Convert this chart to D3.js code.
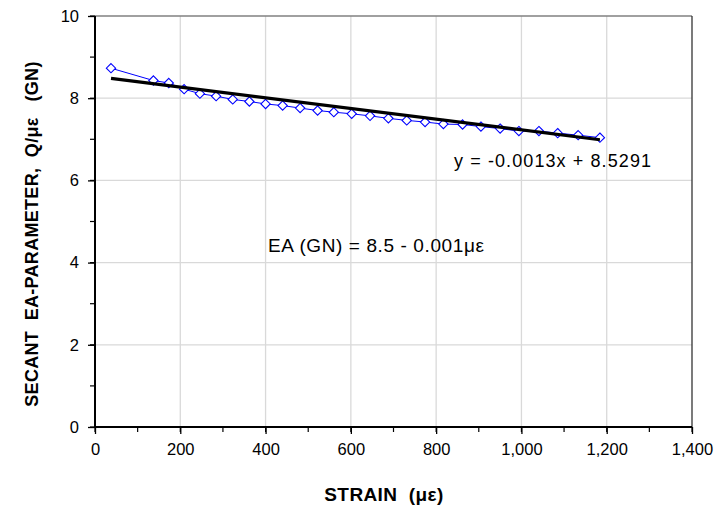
<!DOCTYPE html>
<html><head><meta charset="utf-8">
<script src="https://cdn.jsdelivr.net/npm/d3@7"></script>
<style>body{margin:0;background:#fff;} text{font-family:"Liberation Sans",Arial,sans-serif; white-space:pre;}</style>
</head><body>
<svg id="c" width="721" height="509"></svg>
<script>
const strain = [37.5,137,173,209,246,284,323,362,400,440,481,522,560,602,645,688,731,774,817,862,905,950,994,1041,1085,1133,1184];
const secantEA = [8.73,8.43,8.37,8.22,8.11,8.05,7.97,7.92,7.86,7.82,7.76,7.70,7.66,7.62,7.57,7.51,7.46,7.42,7.37,7.36,7.31,7.26,7.20,7.20,7.15,7.10,7.04];
const trendSlope = -0.0013, trendIntercept = 8.5291;
const xTicks = [0,200,400,600,800,1000,1200,1400];
const yTicks = [0,2,4,6,8,10];
const xMinor = d3.range(0,1401,100);
const yMinor = d3.range(0,11,1);
const eqLabel = "y = -0.0013x + 8.5291";
const eaLabel = "EA (GN) = 8.5 - 0.001με";
const xTitle = "STRAIN  (με)";
const yTitle = "SECANT  EA-PARAMETER,  Q/με   (GN)";

const svg = d3.select("#c");
const x = d3.scaleLinear().domain([0,1400]).range([95,692]);
const y = d3.scaleLinear().domain([0,10]).range([427,16]);

// gridlines
svg.append("g").selectAll("line").data(xTicks.slice(1,-1)).join("line")
  .attr("x1",d=>x(d)).attr("x2",d=>x(d)).attr("y1",y(0)).attr("y2",y(10))
  .attr("stroke","#d9d9d9").attr("stroke-width",1.3);
svg.append("g").selectAll("line").data(yTicks.slice(1,-1)).join("line")
  .attr("x1",x(0)).attr("x2",x(1400)).attr("y1",d=>y(d)).attr("y2",d=>y(d))
  .attr("stroke","#d9d9d9").attr("stroke-width",1.3);
// top & right border
svg.append("line").attr("x1",x(0)).attr("x2",x(1400)).attr("y1",y(10)).attr("y2",y(10)).attr("stroke","#808080").attr("stroke-width",1.3);
svg.append("line").attr("x1",x(1400)).attr("x2",x(1400)).attr("y1",y(10)).attr("y2",y(0)).attr("stroke","#333").attr("stroke-width",1.3);

// axes
const xAxis = svg.append("g").attr("transform",`translate(0,${y(0)})`)
  .call(d3.axisBottom(x).tickValues(xTicks).tickSize(7).tickFormat(d3.format(",")));
xAxis.select(".domain").remove();
xAxis.selectAll(".tick line").attr("stroke","#000").attr("stroke-width",1.3);
xAxis.selectAll(".tick text").attr("font-size",16.5).attr("fill","#000").attr("dy","1.1em").attr("font-family","Liberation Sans, Arial, sans-serif");
svg.append("g").selectAll("line").data(xMinor).join("line")
  .attr("x1",d=>x(d)).attr("x2",d=>x(d)).attr("y1",y(0)).attr("y2",y(0)+5).attr("stroke","#000").attr("stroke-width",1.2);

const yAxis = svg.append("g").attr("transform",`translate(${x(0)},0)`)
  .call(d3.axisLeft(y).tickValues(yTicks).tickSize(7).tickPadding(9));
yAxis.select(".domain").remove();
yAxis.selectAll(".tick line").attr("stroke","#000").attr("stroke-width",1.3);
yAxis.selectAll(".tick text").attr("font-size",16.5).attr("fill","#000").attr("font-family","Liberation Sans, Arial, sans-serif");
svg.append("g").selectAll("line").data(yMinor).join("line")
  .attr("x1",x(0)-5).attr("x2",x(0)).attr("y1",d=>y(d)).attr("y2",d=>y(d)).attr("stroke","#000").attr("stroke-width",1.2);

svg.append("line").attr("x1",x(0)).attr("x2",x(1400)).attr("y1",y(0)).attr("y2",y(0)).attr("stroke","#000").attr("stroke-width",2);
svg.append("line").attr("x1",x(0)).attr("x2",x(0)).attr("y1",y(0)).attr("y2",y(10)).attr("stroke","#000").attr("stroke-width",2);

// data series
const pts = strain.map((s,i)=>[s,secantEA[i]]);
svg.append("path").datum(pts)
  .attr("d",d3.line().x(d=>x(d[0])).y(d=>y(d[1])))
  .attr("fill","none").attr("stroke","#0000ff").attr("stroke-width",1);
svg.append("g").selectAll("path").data(pts).join("path")
  .attr("d",d3.symbol().type(d3.symbolDiamond2).size(55))
  .attr("transform",d=>`translate(${x(d[0])},${y(d[1])})`)
  .attr("fill","#fff").attr("stroke","#0000ff").attr("stroke-width",1.1);

// trendline
const x0 = d3.min(strain), x1 = d3.max(strain);
svg.append("line")
  .attr("x1",x(x0)).attr("y1",y(trendSlope*x0+trendIntercept))
  .attr("x2",x(x1)).attr("y2",y(trendSlope*x1+trendIntercept))
  .attr("stroke","#000").attr("stroke-width",3.2);

// annotations
svg.append("text").attr("x",454).attr("y",167).attr("font-size",18).attr("textLength",197).attr("lengthAdjust","spacing").text(eqLabel);
svg.append("text").attr("x",268).attr("y",252).attr("font-size",19).attr("textLength",216).attr("lengthAdjust","spacing").text(eaLabel);

// titles
svg.append("text").attr("x",384).attr("y",501).attr("text-anchor","middle").attr("font-size",19).attr("font-weight","bold").attr("letter-spacing",0.4).text(xTitle);
svg.append("text").attr("transform","translate(38,234) rotate(-90)").attr("text-anchor","middle").attr("font-size",18).attr("font-weight","bold").attr("letter-spacing",0.3).text(yTitle);
</script>
</body></html>
